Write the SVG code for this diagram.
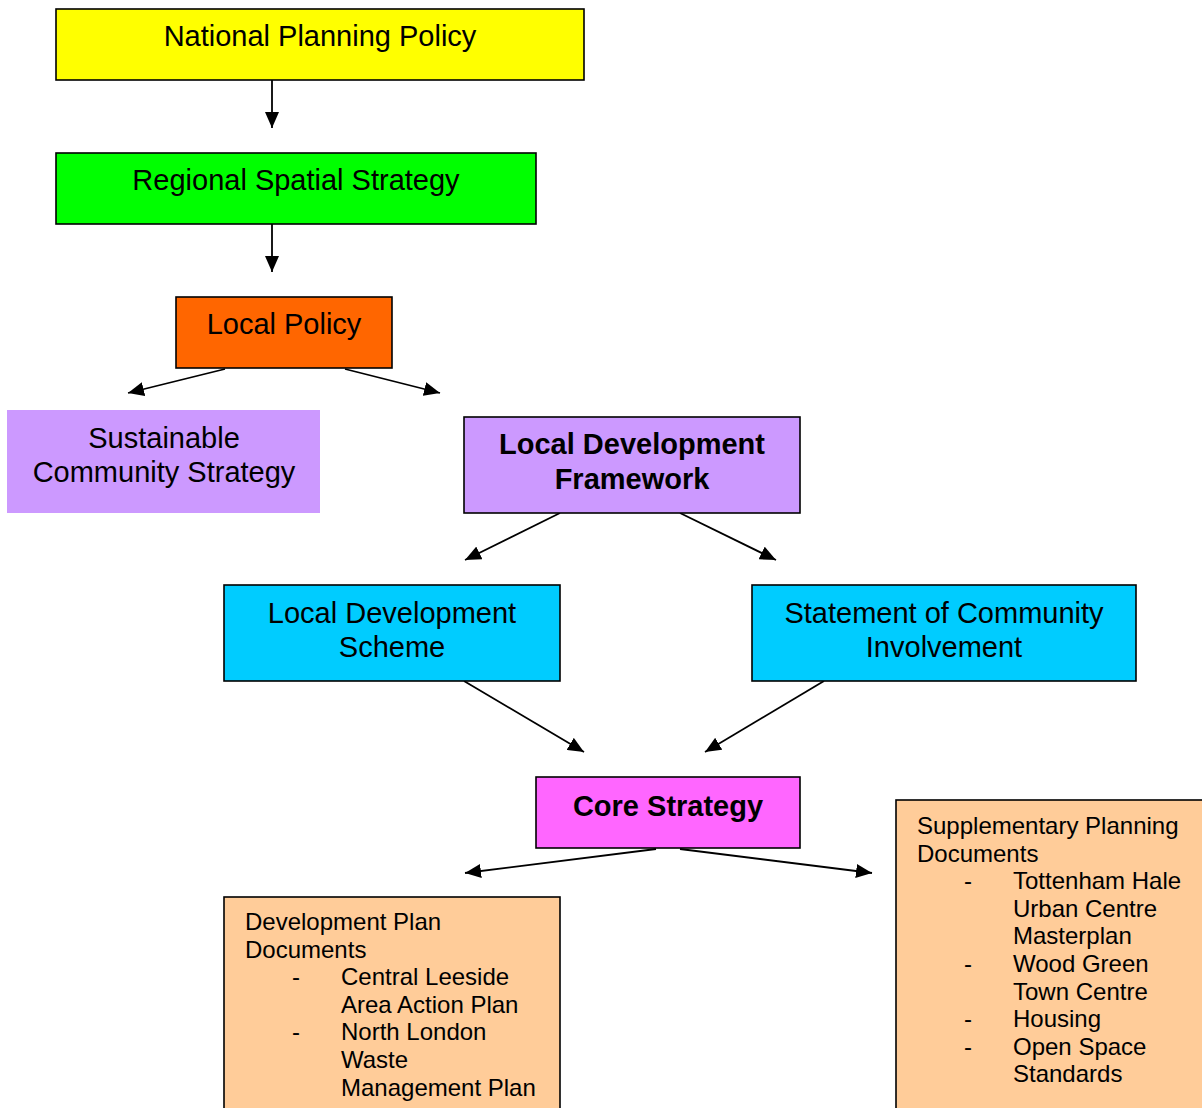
<svg xmlns="http://www.w3.org/2000/svg" width="1202" height="1108" viewBox="0 0 1202 1108">
<style>
.box{stroke:#000;stroke-width:1.6}
.t{font-family:"Liberation Sans",Arial,sans-serif;font-size:29px;fill:#000;text-anchor:middle}
.b{font-weight:bold}
.s{font-family:"Liberation Sans",Arial,sans-serif;font-size:24px;fill:#000}
.c{stroke:#000;stroke-width:1.8;fill:none;marker-end:url(#ah)}
</style>
<defs>
<marker id="ah" viewBox="0 0 16 14" refX="16" refY="7" markerWidth="16" markerHeight="14" markerUnits="userSpaceOnUse" orient="auto">
<path d="M0,0 L16,7 L0,14 z" fill="#000"/>
</marker>
</defs>
<rect width="1202" height="1108" fill="#fff"/>
<g id="connectors">
<line class="c" x1="272" y1="80" x2="272" y2="128"/>
<line class="c" x1="272" y1="224" x2="272" y2="272"/>
<line class="c" x1="225" y1="369" x2="128" y2="393"/>
<line class="c" x1="345" y1="369" x2="440" y2="393"/>
<line class="c" x1="560" y1="513" x2="465" y2="560"/>
<line class="c" x1="680" y1="513" x2="776" y2="560"/>
<line class="c" x1="464" y1="681" x2="584" y2="752"/>
<line class="c" x1="824" y1="681" x2="705" y2="752"/>
<line class="c" x1="656" y1="849" x2="465" y2="873"/>
<line class="c" x1="680" y1="849" x2="872" y2="873"/>
</g>
<g id="national">
<rect class="box" x="56" y="9" width="528" height="71" fill="#FFFF00"/>
<text class="t" x="320" y="46">National Planning Policy</text>
</g>
<g id="regional">
<rect class="box" x="56" y="153" width="480" height="71" fill="#00FF00"/>
<text class="t" x="296" y="190">Regional Spatial Strategy</text>
</g>
<g id="local-policy">
<rect class="box" x="176" y="297" width="216" height="71" fill="#FF6600"/>
<text class="t" x="284" y="334">Local Policy</text>
</g>
<g id="scs">
<rect x="7" y="410" width="313" height="103" fill="#CC99FF"/>
<text class="t" x="164" y="448">Sustainable</text>
<text class="t" x="164" y="482">Community Strategy</text>
</g>
<g id="ldf">
<rect class="box" x="464" y="417" width="336" height="96" fill="#CC99FF"/>
<text class="t b" x="632" y="454">Local Development</text>
<text class="t b" x="632" y="489">Framework</text>
</g>
<g id="lds">
<rect class="box" x="224" y="585" width="336" height="96" fill="#00CCFF"/>
<text class="t" x="392" y="623">Local Development</text>
<text class="t" x="392" y="657">Scheme</text>
</g>
<g id="sci">
<rect class="box" x="752" y="585" width="384" height="96" fill="#00CCFF"/>
<text class="t" x="944" y="623">Statement of Community</text>
<text class="t" x="944" y="657">Involvement</text>
</g>
<g id="core">
<rect class="box" x="536" y="777" width="264" height="71" fill="#FF66FF"/>
<text class="t b" x="668" y="816">Core Strategy</text>
</g>
<g id="dpd">
<rect class="box" x="224" y="897" width="336" height="220" fill="#FFCC99"/>
<text class="s" x="245" y="930">Development Plan</text>
<text class="s" x="245" y="958">Documents</text>
<text class="s" x="292" y="985">-</text>
<text class="s" x="341" y="985">Central Leeside</text>
<text class="s" x="341" y="1013">Area Action Plan</text>
<text class="s" x="292" y="1040">-</text>
<text class="s" x="341" y="1040">North London</text>
<text class="s" x="341" y="1068">Waste</text>
<text class="s" x="341" y="1096">Management Plan</text>
</g>
<g id="spd">
<rect class="box" x="896" y="800" width="320" height="320" fill="#FFCC99"/>
<text class="s" x="917" y="834">Supplementary Planning</text>
<text class="s" x="917" y="862">Documents</text>
<text class="s" x="964" y="889">-</text>
<text class="s" x="1013" y="889">Tottenham Hale</text>
<text class="s" x="1013" y="917">Urban Centre</text>
<text class="s" x="1013" y="944">Masterplan</text>
<text class="s" x="964" y="972">-</text>
<text class="s" x="1013" y="972">Wood Green</text>
<text class="s" x="1013" y="1000">Town Centre</text>
<text class="s" x="964" y="1027">-</text>
<text class="s" x="1013" y="1027">Housing</text>
<text class="s" x="964" y="1055">-</text>
<text class="s" x="1013" y="1055">Open Space</text>
<text class="s" x="1013" y="1082">Standards</text>
</g>
</svg>
